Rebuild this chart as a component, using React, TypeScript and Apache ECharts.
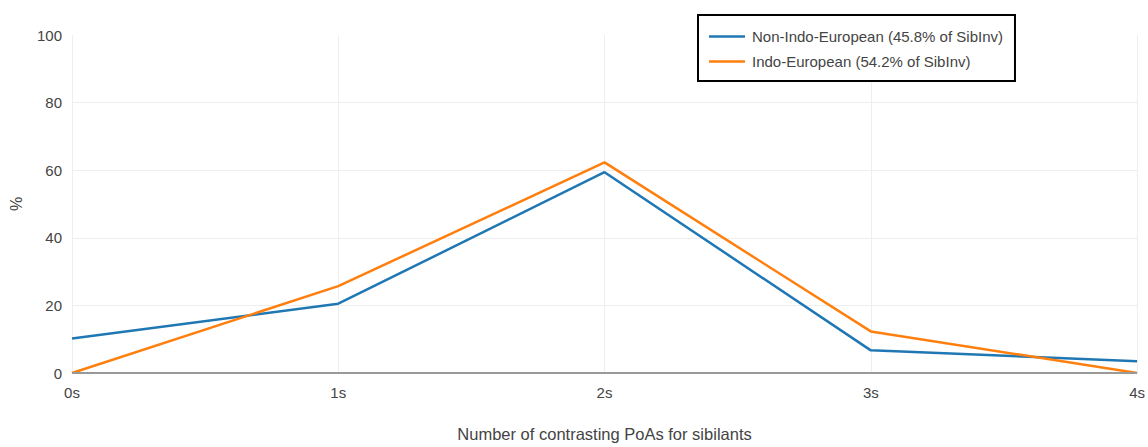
import React, { useEffect, useRef } from "react";
import * as echarts from "echarts";

const categories = ["0s", "1s", "2s", "3s", "4s"];
const nonIndoEuropean = [10.2, 20.5, 59.4, 6.7, 3.5];
const indoEuropean = [0, 25.7, 62.3, 12.3, 0];
const seriesNames = [
  "Non-Indo-European (45.8% of SibInv)",
  "Indo-European (54.2% of SibInv)",
];

export default function App() {
  const ref = useRef<HTMLDivElement>(null);
  useEffect(() => {
    document.body.style.margin = "0";
    document.body.style.overflow = "hidden";
    if (!ref.current) return;
    const chart = echarts.init(ref.current, null, { renderer: "svg" });
    const font = "Liberation Sans, Arial, sans-serif";
    chart.setOption({
      animation: false,
      textStyle: { fontFamily: font },
      grid: { left: 71, right: 10, top: 35, bottom: 70, containLabel: false },
      legend: {
        left: 698,
        top: 15,
        orient: "vertical",
        backgroundColor: "#fff",
        borderColor: "#000",
        borderWidth: 2,
        padding: [14, 12, 12, 11],
        itemGap: 10,
        itemWidth: 36,
        itemHeight: 2.5,
        icon: "rect",
        textStyle: { fontFamily: font, fontSize: 15, color: "#444", padding: [0, 0, 0, 2], lineHeight: 14 },
        data: seriesNames,
      },
      xAxis: {
        type: "category",
        data: categories,
        boundaryGap: false,
        name: "Number of contrasting PoAs for sibilants",
        nameLocation: "middle",
        nameGap: 52,
        nameTextStyle: { fontFamily: font, fontSize: 16.5, color: "#444" },
        axisLine: { show: false },
        axisTick: { show: false },
        axisLabel: { fontFamily: font, fontSize: 15, color: "#444", margin: 12 },
        splitLine: { show: true, lineStyle: { color: "#eee", width: 1 } },
      },
      yAxis: {
        type: "value",
        min: 0,
        max: 100,
        interval: 20,
        name: "%",
        nameLocation: "middle",
        nameGap: 48,
        nameTextStyle: { fontFamily: font, fontSize: 16, color: "#444" },
        axisLine: { show: false },
        axisTick: { show: false },
        axisLabel: { fontFamily: font, fontSize: 15, color: "#444", margin: 10 },
        splitLine: {
          show: true,
          lineStyle: { color: ["#999", "#eee", "#eee", "#eee", "#eee", "rgba(0,0,0,0)"], width: 1 },
        },
      },
      series: [
        {
          name: seriesNames[0],
          type: "line",
          data: nonIndoEuropean,
          symbol: "none",
          lineStyle: { color: "#1f77b4", width: 2.5 },
          itemStyle: { color: "#1f77b4" },
          z: 3,
        },
        {
          name: seriesNames[1],
          type: "line",
          data: indoEuropean,
          symbol: "none",
          lineStyle: { color: "#ff7f0e", width: 2.5 },
          itemStyle: { color: "#ff7f0e" },
          z: 4,
        },
        {
          name: "zero",
          type: "line",
          data: [],
          markLine: {
            silent: true,
            symbol: "none",
            label: { show: false },
            lineStyle: { color: "#999", width: 2, type: "solid" },
            data: [{ yAxis: 0 }],
          },
          z: 2,
        },
      ],
    });
    return () => chart.dispose();
  }, []);
  return <div ref={ref} style={{ width: 1148, height: 447 }} />;
}
